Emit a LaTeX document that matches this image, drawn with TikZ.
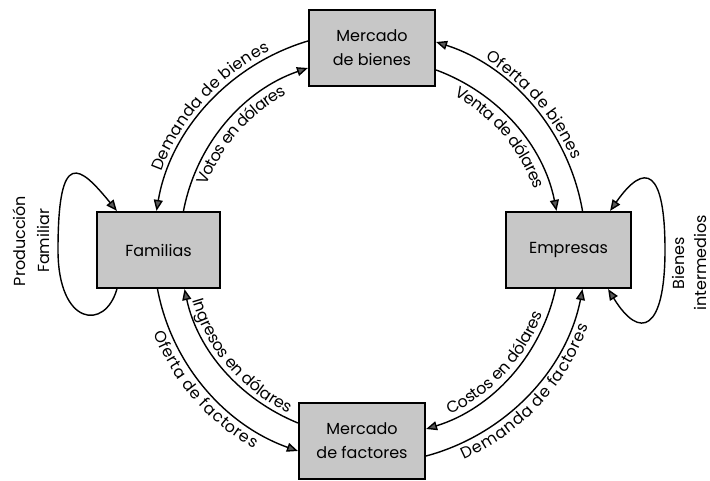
\documentclass[tikz,border=0pt]{standalone}
\usepackage{fontspec}
\setmainfont{Poppins}
\usetikzlibrary{arrows.meta,decorations.text}
\newcommand{\lab}{\fontsize{16}{24}\selectfont}
\begin{document}
\lab
\begin{tikzpicture}[x=1pt,y=1pt,
  box/.style={draw, line width=2.2pt, fill=black!22, minimum width=#1, minimum height=76pt, align=center, font=\lab, inner sep=0pt},
  box/.default=125pt,
  arr/.style={line width=1.4pt, >={Triangle[length=11pt,width=9pt,fill=black!65]}, looseness=0.92},
  side/.style={font=\lab, align=center, rotate=90}
]
\useasboundingbox (0,0) rectangle (710,481);

\node[box=126pt] (mb) at (372,433) {Mercado\\de bienes};
\node[box=123pt] (fam) at (158.5,231) {Familias};
\node[box=125pt] (emp) at (568.5,231) {Empresas};
\node[box=126pt] (mf) at (362,40) {Mercado\\de factores};

% top-left
\draw[arr,<-,postaction={decorate, decoration={text along path, text={Demanda de bienes}, text align=center, raise=5pt}}]
  ([xshift=-2pt]fam.north) to[out=80.4,in=196.7] ([yshift=7pt]mb.west);
\draw[arr,->,postaction={decorate, decoration={text along path, text={Votos en dólares}, text align=center, raise=-16pt}}]
  ([xshift=25pt]fam.north) to[out=79.1,in=199] ([yshift=-20pt]mb.west);

% top-right
\draw[arr,<-,postaction={decorate, decoration={text along path, text={Oferta de bienes}, text align=center, raise=5pt}}]
  ([yshift=6pt]mb.east) to[out=-17.8,in=99.9] ([xshift=14pt]emp.north);
\draw[arr,->,postaction={decorate, decoration={text along path, text={Venta de dólares}, text align=center, raise=-16pt}}]
  ([yshift=-22pt]mb.east) to[out=-20.3,in=101.2] ([xshift=-12pt]emp.north);

% bottom-left
\draw[arr,->,postaction={decorate, decoration={text along path, text={Oferta de factores}, text align=center, raise=-16pt}}]
  ([xshift=-1pt]fam.south) to[out=280.7,in=160.5] ([yshift=-10pt]mf.west);
\draw[arr,<-,postaction={decorate, decoration={text along path, text={Ingresos en dólares}, text align=center, raise=5pt}}]
  ([xshift=26pt]fam.south) to[out=282.2,in=157.7] ([yshift=18pt]mf.west);

% bottom-right
\draw[arr,<-,postaction={decorate, decoration={text along path, text={Costos en dólares}, text align=center, raise=5pt}}]
  ([yshift=12pt]mf.east) to[out=17.1,in=257.5] ([xshift=-13pt]emp.south);
\draw[arr,->,postaction={decorate, decoration={text along path, text={Demanda de factores}, text align=center, raise=-16pt}}]
  ([yshift=-15pt]mf.east) to[out=15,in=259] ([xshift=14pt]emp.south);

% self loops
\draw[arr,->] ([xshift=21pt]fam.south west) .. controls (105,150) and (58,155) .. (58,231)
  .. controls (58,335) and (80,315) .. ([xshift=21pt]fam.north west);
\draw[arr,<->] ([xshift=-24pt]emp.south east) .. controls (640,140) and (665,150) .. (665,231)
  .. controls (665,312) and (645,320) .. ([xshift=-22pt]emp.north east);

\node[side] (prod) at (31,240) {Producción\\Familiar};
\node[side, font=\fontsize{16}{22}\selectfont] (bint) at (689,218) {Bienes\\intermedios};
\end{tikzpicture}
\end{document}
